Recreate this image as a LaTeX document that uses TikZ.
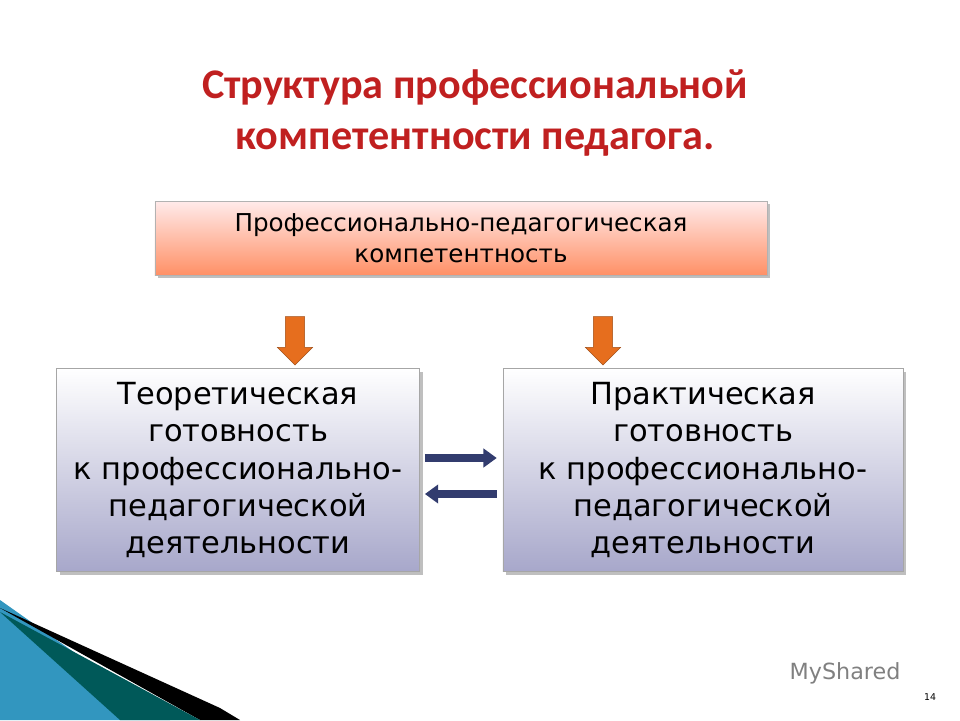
\documentclass[tikz,border=0pt]{standalone}
\usepackage{fontspec}
\setmainfont{DejaVu Sans}
\newfontfamily\titlefont{Carlito}
\usetikzlibrary{positioning,shapes.arrows,arrows.meta,shadows,calc}
\definecolor{titlered}{RGB}{192,32,32}
\definecolor{navy}{RGB}{50,60,110}
\definecolor{orangearr}{RGB}{230,110,30}
\begin{document}
\begin{tikzpicture}[x=0.03cm,y=-0.03cm,
    topbox/.style = {draw = gray!60, top color = red!8, bottom color = red!45!orange!60, drop shadow, minimum width = 18.36cm, minimum height = 2.22cm, align = center, font = \fontsize{21}{26}\selectfont},
    sidebox/.style = {draw = gray!70, top color = white, bottom color = blue!25!gray!55, drop shadow, minimum height = 6.09cm, align = center, font = \fontsize{26}{32}\selectfont},
    downarr/.style = {single arrow, shape border rotate = 270, draw = orangearr!70!black, fill = orangearr, minimum height = 1.45cm, inner sep = 0.28cm, single arrow head extend = 0.24cm},
    sidearr/.style = {draw = navy, line width = 0.22cm, -{Triangle[length = 0.4cm, width = 0.55cm]}},
    ]
    \useasboundingbox (0,0) rectangle (960,720);
    % bottom left decoration
    \fill[cyan!50!teal] (0,600) -- (0,720) -- (170,720) -- cycle;
    \fill[black] (0,608) -- (220,708) -- (240,720) -- (200,720) -- cycle;
    \fill[teal!70!black] (0,612) -- (200,720) -- (120,720) -- cycle;
    % title
    \node[font = \titlefont\bfseries\fontsize{36}{44}\selectfont, text = titlered, align = center] (title) at (475,113) {Структура профессиональной\\компетентности педагога.};
    % boxes
    \node[topbox] (comp) at (461,238) {Профессионально-педагогическая\\компетентность};
    \node[sidebox, minimum width = 10.9cm] (theory) at (238,470) {Теоретическая\\готовность\\к профессионально-\\педагогической\\деятельности};
    \node[sidebox, minimum width = 12cm] (practice) at (703,470) {Практическая\\готовность\\к профессионально-\\педагогической\\деятельности};
    % arrows
    \node[downarr] (d1) at (295,336) {};
    \node[downarr] (d2) at (603,336) {};
    \draw[sidearr] ($(theory.east)+(5,-12)$) -- ($(practice.west)+(-6,-12)$);
    \draw[sidearr] ($(practice.west)+(-6,24)$) -- ($(theory.east)+(5,24)$);
    % footer
    \node[font = \fontsize{19}{20}\selectfont, text = gray] (logo) at (845,673) {MyShared};
    \node[font = \fontsize{8}{10}\selectfont] (page) at (930,697) {14};
\end{tikzpicture}
\end{document}
